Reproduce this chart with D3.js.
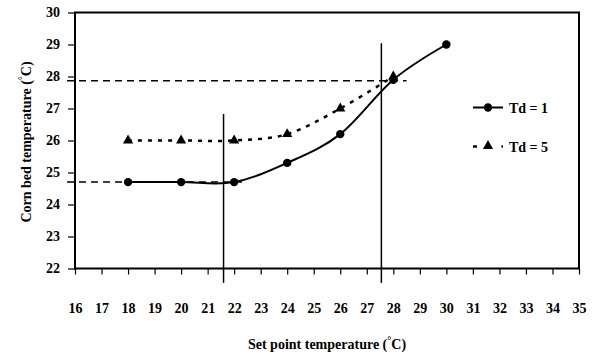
<!DOCTYPE html>
<html><head><meta charset="utf-8">
<script src="https://cdn.jsdelivr.net/npm/d3@7"></script>
<style>body{margin:0;background:#fff}svg{display:block}</style>
</head><body><svg id="c" width="596" height="354"></svg>
<script>
const xTicks = [16,17,18,19,20,21,22,23,24,25,26,27,28,29,30,31,32,33,34,35];
const yTicks = [22,23,24,25,26,27,28,29,30];
const setPoint1 = [18,20,22,24,26,28,30];
const td1 = [24.7,24.7,24.7,25.3,26.2,27.9,29.0];
const setPoint5 = [18,20,22,24,26,28];
const td5 = [26.0,26.0,26.0,26.2,27.0,28.0];
const seriesNames = ["Td = 1","Td = 5"];
const vRefX = [21.6, 27.55];
const vRefTop = [26.83, 29.04];
const vRefBottom = [21.55, 21.55];
const hRefY = [27.87, 24.7];
const hRefX0 = [15.7, 15.7];
const hRefX1 = [28.5, 22.3];

const FONT = '"Liberation Serif", "Times New Roman", Times, "DejaVu Serif", serif';
const svg = d3.select("#c");
const L=75, R=579, T=12.5, B=268.5;
const x = d3.scaleLinear().domain([16,35]).range([L,R]);
const y = d3.scaleLinear().domain([22,30]).range([B,T]);

// frame
svg.append("rect").attr("x",L).attr("y",T).attr("width",R-L).attr("height",B-T)
  .attr("fill","none").attr("stroke","#000").attr("stroke-width",2);

// axes
const xa = svg.append("g").attr("transform",`translate(0,${B})`)
  .call(d3.axisBottom(x).tickValues(xTicks).tickSize(6).tickFormat(d3.format("d")));
xa.attr("font-family",null).attr("font-size",null);
xa.select(".domain").remove();
xa.selectAll("line").attr("stroke","#000").attr("stroke-width",1.2);
xa.selectAll("text").attr("y",44).attr("dy",0);

const ya = svg.append("g").attr("transform",`translate(${L},0)`)
  .call(d3.axisLeft(y).tickValues(yTicks).tickSize(7).tickFormat(d3.format("d")));
ya.attr("font-family",null).attr("font-size",null);
ya.select(".domain").remove();
ya.selectAll("line").attr("stroke","#000").attr("stroke-width",1.2);
ya.selectAll("text").attr("x",-15);
svg.selectAll(".tick text").attr("fill","#000").style("font-size","14px");

// reference lines
vRefX.forEach((v,i)=>{
  svg.append("line").attr("x1",x(v)).attr("x2",x(v)).attr("y1",y(vRefTop[i])).attr("y2",y(vRefBottom[i]))
    .attr("stroke","#000").attr("stroke-width",1.5);
});
hRefY.forEach((v,i)=>{
  svg.append("line").attr("x1",x(hRefX0[i])).attr("x2",x(hRefX1[i])).attr("y1",y(v)).attr("y2",y(v))
    .attr("stroke","#000").attr("stroke-width",1.5).attr("stroke-dasharray","7,5");
});

// series
const d1 = setPoint1.map((s,i)=>[s,td1[i]]);
const d5 = setPoint5.map((s,i)=>[s,td5[i]]);
const line = d3.line().x(d=>x(d[0])).y(d=>y(d[1])).curve(d3.curveCardinal.tension(0));
svg.append("path").attr("d",line(d5)).attr("fill","none").attr("stroke","#000")
  .attr("stroke-width",2.5).attr("stroke-dasharray","4,6");
svg.append("path").attr("d",line(d1)).attr("fill","none").attr("stroke","#000").attr("stroke-width",2);

const tri = d3.symbol().type(d3.symbolTriangle).size(45);
svg.selectAll(".t5").data(d5).join("path").attr("transform",d=>`translate(${x(d[0])},${y(d[1])})`)
  .attr("d",tri).attr("fill","#000");
svg.selectAll(".c1").data(d1).join("circle").attr("cx",d=>x(d[0])).attr("cy",d=>y(d[1])).attr("r",4.2).attr("fill","#000");

// legend
const lg = svg.append("g");
lg.append("line").attr("x1",473).attr("x2",503).attr("y1",107.5).attr("y2",107.5).attr("stroke","#000").attr("stroke-width",2);
lg.append("circle").attr("cx",488).attr("cy",107.5).attr("r",4.2).attr("fill","#000");
lg.append("text").attr("x",509).attr("y",113).style("font-size","14px").text(seriesNames[0]);
lg.append("line").attr("x1",473).attr("x2",503).attr("y1",146.5).attr("y2",146.5).attr("stroke","#000")
  .attr("stroke-width",2.5).attr("stroke-dasharray","4,8.5,4,12");
lg.append("path").attr("transform","translate(488,146)").attr("d",tri).attr("fill","#000");
lg.append("text").attr("x",509).attr("y",152).style("font-size","14px").text(seriesNames[1]);

// axis titles
const yt = svg.append("text").attr("transform","translate(31,142) rotate(-90)").attr("text-anchor","middle").style("font-size","14px");
yt.append("tspan").text("Corn bed temperature (");
yt.append("tspan").style("font-size","10px").attr("dy",-5).text("°");
yt.append("tspan").attr("dy",5).text("C)");
const xt = svg.append("text").attr("x",327).attr("y",349).attr("text-anchor","middle").style("font-size","14px");
xt.append("tspan").text("Set point temperature (");
xt.append("tspan").style("font-size","10px").attr("dy",-5).text("°");
xt.append("tspan").attr("dy",5).text("C)");

svg.selectAll("text").style("font-family",FONT).style("font-weight","bold").attr("fill","#000");
</script></body></html>
